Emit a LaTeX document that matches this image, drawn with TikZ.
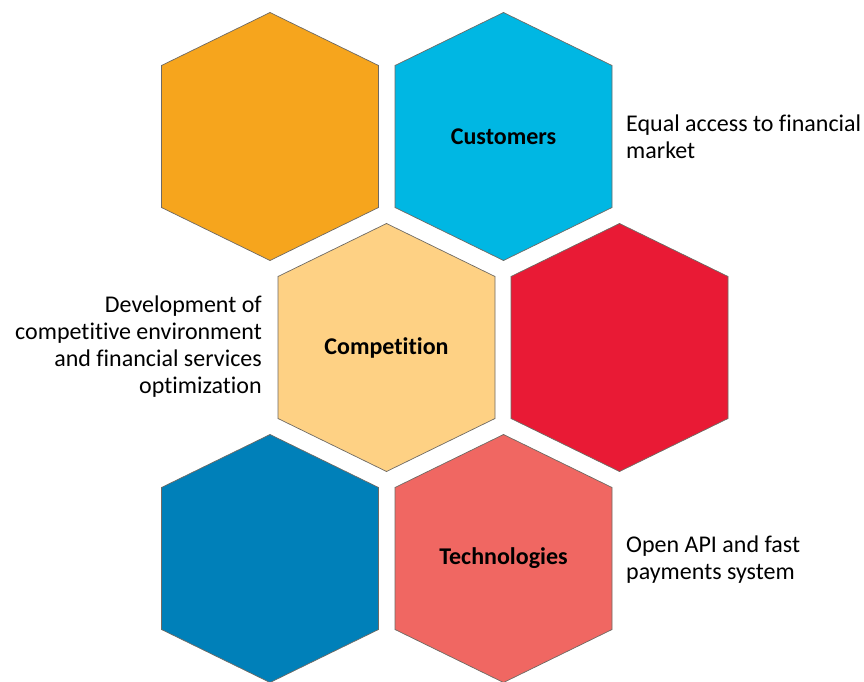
\documentclass[tikz,border=0pt]{standalone}
\usepackage{fontspec}
\setmainfont{Carlito}[Ligatures=NoCommon]
\definecolor{hexorange}{HTML}{F6A51D}
\definecolor{hexcyan}{HTML}{00B7E3}
\definecolor{hexpeach}{HTML}{FED184}
\definecolor{hexred}{HTML}{E91A35}
\definecolor{hexblue}{HTML}{0080B9}
\definecolor{hexsalmon}{HTML}{F06762}
\definecolor{hexline}{HTML}{6E6A64}
\newcommand{\hexcell}[4]{%
  \filldraw[fill=#4, draw=hexline, line width=0.7pt, line join=miter]
    (#2,#3) ++(0,-124) -- ++(108.5,53) -- ++(0,142) -- ++(-108.5,53)
    -- ++(-108.5,-53) -- ++(0,-142) -- cycle;
  \coordinate (#1) at (#2,#3);}
\tikzset{
  hexlabel/.style={font=\fontsize{24}{27}\selectfont\bfseries, text=black, inner sep=0pt},
  sidetext/.style={font=\fontsize{24}{27}\selectfont, text=black, inner sep=0pt},
}
\begin{document}
\begin{tikzpicture}[x=1pt,y=-1pt]
\useasboundingbox (0,0) rectangle (864,682);
\hexcell{h1}{270}{136.5}{hexorange}
\hexcell{h2}{503.5}{136.5}{hexcyan}
\hexcell{h3}{386.5}{347.5}{hexpeach}
\hexcell{h4}{619.5}{347.5}{hexred}
\hexcell{h5}{270}{558.5}{hexblue}
\hexcell{h6}{503.5}{558.5}{hexsalmon}
\node[hexlabel] (l2) at (h2) {Customers};
\node[hexlabel] (l3) at (h3) {Competition};
\node[hexlabel] (l6) at (h6) {Technologies};
\node[sidetext, anchor=west, align=left] (t2) at (626,136.5) {Equal access to financial\\market};
\node[sidetext, anchor=east, align=right] (t3) at (262,347) {Development of\\competitive environment\\and financial services\\optimization};
\node[sidetext, anchor=west, align=left] (t6) at (626,560) {Open API and fast\\payments system};
\end{tikzpicture}
\end{document}
